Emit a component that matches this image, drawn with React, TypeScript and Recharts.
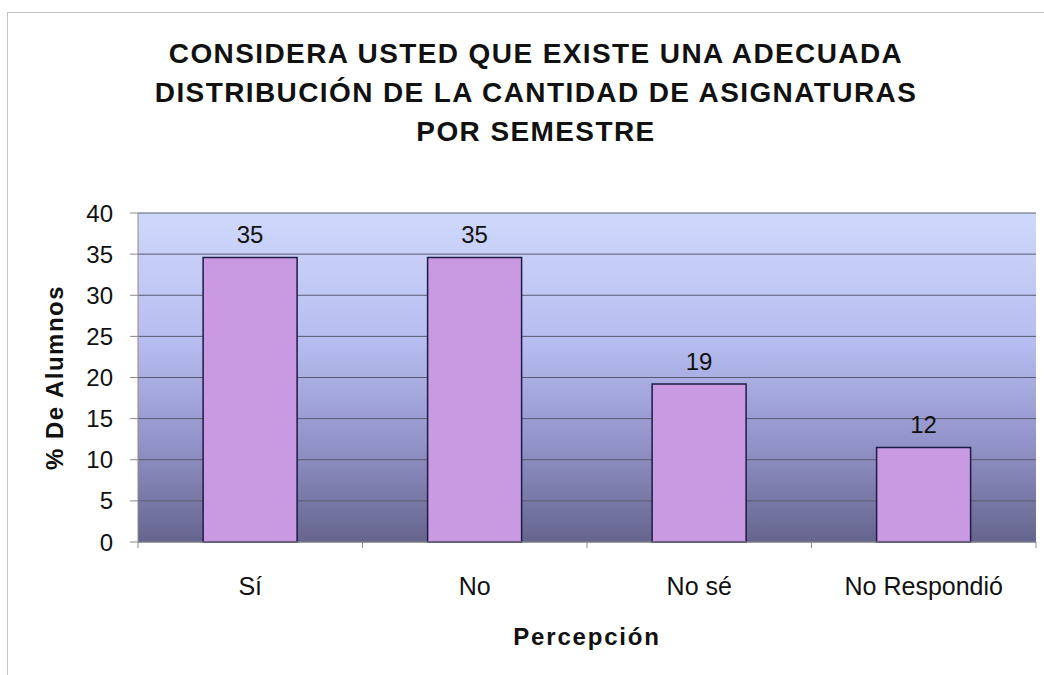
import { BarChart, Bar, XAxis, YAxis, CartesianGrid, LabelList } from 'recharts'

const categories = ['Sí', 'No', 'No sé', 'No Respondió']
const percentages = [34.6, 34.6, 19.2, 11.5]
const yTicks = [0, 5, 10, 15, 20, 25, 30, 35, 40]

const titleLines = [
  'CONSIDERA USTED QUE EXISTE UNA ADECUADA',
  'DISTRIBUCIÓN DE LA CANTIDAD DE ASIGNATURAS',
  'POR SEMESTRE',
]

const data = categories.map((name, i) => ({ name, value: percentages[i] }))

const font = '"Liberation Sans", Arial, sans-serif'

const W = 1044
const H = 675
const margin = { top: 213, right: 8, bottom: 23, left: 0 }
const yAxisWidth = 138
const step = (W - margin.left - margin.right - yAxisWidth) / categories.length

// category label plus the small tick marks that sit between categories
function CategoryTick(props: any) {
  const { x, y, payload, index } = props
  const axisY = y - 35
  const last = index === categories.length - 1
  return (
    <g>
      <line x1={x - step / 2} x2={x - step / 2} y1={axisY} y2={axisY + 6} stroke="#8a8a8a" />
      {last && (
        <line x1={x + step / 2} x2={x + step / 2} y1={axisY} y2={axisY + 6} stroke="#8a8a8a" />
      )}
      <text
        x={x}
        y={y}
        dy="0.71em"
        textAnchor="middle"
        fontSize={25}
        fill="#111"
        fontFamily={font}
      >
        {payload.value}
      </text>
    </g>
  )
}

export default function App() {
  return (
    <div
      style={{
        position: 'absolute',
        left: 0,
        top: 0,
        width: W,
        height: H,
        overflow: 'hidden',
        background: '#fff',
        fontFamily: font,
      }}
    >
      <div
        style={{
          position: 'absolute',
          left: 7,
          top: 12,
          width: 1100,
          height: 700,
          border: '1px solid #c4c4c4',
        }}
      />
      <div
        style={{
          position: 'absolute',
          left: 36,
          top: 34,
          width: 1000,
          textAlign: 'center',
          fontWeight: 'bold',
          fontSize: 28,
          lineHeight: '39px',
          letterSpacing: 1.4,
          color: '#111',
        }}
      >
        {titleLines.map((t) => (
          <div key={t}>{t}</div>
        ))}
      </div>
      <div style={{ position: 'absolute', left: 0, top: 0 }}>
        <BarChart
          width={W}
          height={H}
          data={data}
          margin={margin}
          barCategoryGap="29%"
        >
          <defs>
            <linearGradient id="bg" x1="0" y1="0" x2="0" y2="1">
              <stop offset="0%" stopColor="#cfd8fc" />
              <stop offset="40%" stopColor="#b6bcef" />
              <stop offset="70%" stopColor="#9293c8" />
              <stop offset="100%" stopColor="#65658e" />
            </linearGradient>
          </defs>
          <CartesianGrid
            vertical={false}
            fill="url(#bg)"
            fillOpacity={1}
            stroke="#5a5a70"
            strokeWidth={1}
          />
          <XAxis
            dataKey="name"
            height={110}
            axisLine={{ stroke: '#8a8a8a' }}
            tickLine={false}
            tickSize={0}
            tickMargin={35}
            interval={0}
            tick={<CategoryTick />}
            label={{
              value: 'Percepción',
              position: 'insideBottom',
              offset: 7,
              fontSize: 24,
              fontWeight: 'bold',
              fill: '#111',
              letterSpacing: 1.8,
              fontFamily: font,
            }}
          />
          <YAxis
            width={yAxisWidth}
            domain={[0, 40]}
            ticks={yTicks}
            interval={0}
            axisLine={{ stroke: '#8a8a8a' }}
            tickLine={{ stroke: '#8a8a8a' }}
            tickSize={8}
            tickMargin={17}
            tick={{ fontSize: 24, fill: '#111', fontFamily: font }}
            label={{
              value: '% De Alumnos',
              angle: -90,
              position: 'center',
              dx: -15,
              fontSize: 24,
              fontWeight: 'bold',
              fill: '#111',
              letterSpacing: 1.5,
              fontFamily: font,
            }}
          />
          <Bar
            dataKey="value"
            fill="#c99ae1"
            stroke="#1c1c44"
            strokeWidth={1.5}
            isAnimationActive={false}
          >
            <LabelList
              dataKey="value"
              position="top"
              offset={14}
              formatter={(v: number) => Math.round(v)}
              style={{ fontSize: 24, fill: '#111', fontFamily: font }}
            />
          </Bar>
        </BarChart>
      </div>
    </div>
  )
}
